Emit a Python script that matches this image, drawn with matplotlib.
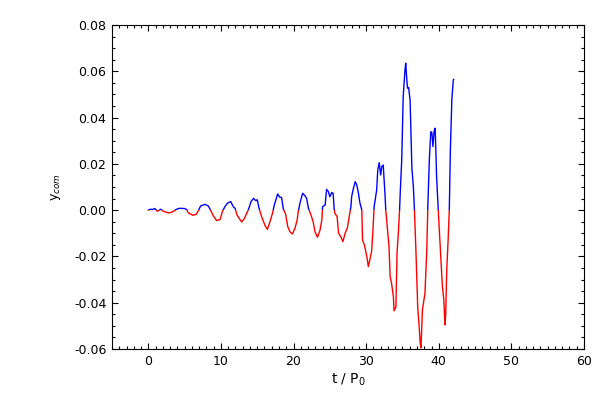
import numpy as np
import matplotlib
matplotlib.use('Agg')
import matplotlib.pyplot as plt
from matplotlib.patches import Rectangle
from matplotlib.ticker import MultipleLocator

# time in units of P0 and centre-of-mass displacement
t = [0.0, 0.3, 0.6, 0.9, 1.25, 1.7, 2.1, 2.75, 3.1, 3.45, 3.9, 4.3, 5.0, 5.3, 5.5,
     6.1, 6.55, 6.9, 7.2, 7.8, 8.26, 8.6, 8.95, 9.4, 9.9, 10.2, 10.55, 10.9, 11.35,
     11.7, 11.95, 12.2, 12.5, 12.85, 13.2, 13.55, 13.8, 14.15, 14.5, 14.8, 15.0,
     15.25, 15.6, 16.1, 16.4, 16.75, 17.1, 17.35, 17.7, 17.8, 18.1, 18.35, 18.6,
     18.9, 19.2, 19.5, 19.85, 20.2, 20.5, 20.65, 20.9, 21.25, 21.6, 21.8, 22.05,
     22.4, 22.7, 22.95, 23.3, 23.65, 23.9, 24.0, 24.35, 24.55, 24.8, 25.0, 25.25,
     25.45, 25.6, 25.7, 26.0, 26.2, 26.5, 26.8, 27.1, 27.4, 27.7, 27.9, 28.0,
     28.25, 28.5, 28.7, 28.9, 29.15, 29.4, 29.5, 29.75, 30.1, 30.3, 30.55, 30.75,
     30.9, 31.1, 31.45, 31.6, 31.8, 32.0, 32.15, 32.35, 32.6, 32.7, 32.9, 33.15,
     33.3, 33.5, 33.75, 33.85, 34.1, 34.25, 34.45, 34.6, 34.7, 34.9, 35.0, 35.1,
     35.35, 35.45, 35.6, 35.7, 35.85, 36.05, 36.3, 36.5, 36.65, 36.85, 37.1, 37.3,
     37.45, 37.55, 37.75, 38.1, 38.35, 38.5, 38.7, 38.9, 39.05, 39.2, 39.35, 39.5,
     39.6, 39.7, 39.85, 40.05, 40.3, 40.5, 40.7, 40.85, 40.95, 41.1, 41.3, 41.45,
     41.6, 41.8, 42.0, 42.05]
ycom = [0.0000, 0.0004, 0.0003, 0.0007, -0.0005, 0.0004, -0.0005, -0.0012, -0.0010,
        -0.0005, 0.0004, 0.0008, 0.0007, 0.0002, -0.0011, -0.0022, -0.0019, -0.0002,
        0.0018, 0.0025, 0.0018, -0.0002, -0.0025, -0.0045, -0.0040, -0.0006, 0.0015,
        0.0030, 0.0037, 0.0015, 0.0008, -0.0020, -0.0035, -0.0051, -0.0038, -0.0014,
        0.0004, 0.0037, 0.0051, 0.0041, 0.0045, 0.0008, -0.0028, -0.0068, -0.0083,
        -0.0050, -0.0014, 0.0022, 0.0058, 0.0070, 0.0056, 0.0055, 0.0004, -0.0016,
        -0.0071, -0.0093, -0.0103, -0.0078, -0.0042, -0.0006, 0.0032, 0.0073, 0.0061,
        0.0051, 0.0008, -0.0021, -0.0050, -0.0093, -0.0117, -0.0086, -0.0042, 0.0015,
        0.0022, 0.0090, 0.0080, 0.0058, 0.0076, 0.0073, 0.0004, -0.0014, -0.0028,
        -0.0100, -0.0114, -0.0136, -0.0100, -0.0078, -0.0021, 0.0015, 0.0058, 0.0095,
        0.0123, 0.0109, 0.0080, 0.0030, 0.0001, -0.0129, -0.0150, -0.0201, -0.0244,
        -0.0208, -0.0179, -0.0107, 0.0015, 0.0087, 0.0174, 0.0205, 0.0152, 0.0188,
        0.0195, 0.0066, 0.0001, -0.0071, -0.0158, -0.0287, -0.0316, -0.0374, -0.0435,
        -0.0417, -0.0186, -0.0090, 0.0000, 0.0080, 0.0217, 0.0360, 0.0490, 0.0606,
        0.0635, 0.0563, 0.0527, 0.0530, 0.0476, 0.0181, 0.0102, 0.0001, -0.0172,
        -0.0417, -0.0503, -0.0575, -0.0595, -0.0431, -0.0359, -0.0172, 0.0022, 0.0217,
        0.0339, 0.0335, 0.0275, 0.0339, 0.0354, 0.0260, 0.0145, 0.0051, -0.0071,
        -0.0215, -0.0330, -0.0388, -0.0496, -0.0455, -0.0258, -0.0121, 0.0000, 0.0260,
        0.0476, 0.0563, 0.0565]

xlim = (-5, 60)
ylim = (-0.06, 0.08)

fig = plt.figure(figsize=(6, 4), dpi=100)
ax = fig.add_axes([0.1867, 0.1275, 0.7866, 0.81])

# same curve twice: blue clipped to y>0, red clipped to y<0
blue, = ax.plot(t, ycom, color='#0000ff', lw=1.0)
red, = ax.plot(t, ycom, color='#ff0000', lw=1.0)
top_half = Rectangle((xlim[0], 0), xlim[1] - xlim[0], ylim[1], transform=ax.transData)
bot_half = Rectangle((xlim[0], ylim[0]), xlim[1] - xlim[0], -ylim[0], transform=ax.transData)
blue.set_clip_path(top_half)
red.set_clip_path(bot_half)

ax.set_xlim(*xlim)
ax.set_ylim(*ylim)
ax.xaxis.set_major_locator(MultipleLocator(10))
ax.xaxis.set_minor_locator(MultipleLocator(1))
ax.yaxis.set_major_locator(MultipleLocator(0.02))
ax.yaxis.set_minor_locator(MultipleLocator(0.005))
ax.yaxis.set_major_formatter(plt.FormatStrFormatter('%.2f'))
ax.tick_params(which='both', direction='in', top=True, right=True, labelsize=9, width=0.8)
ax.tick_params(which='major', length=4.5, pad=4)
ax.tick_params(which='minor', length=2.2)
for s in ax.spines.values():
    s.set_linewidth(0.8)

ax.set_xlabel('t / P$_0$', fontsize=10, labelpad=3)
ax.set_ylabel('y$_{com}$', fontsize=9, labelpad=8)

fig.savefig('out.png', dpi=100)
